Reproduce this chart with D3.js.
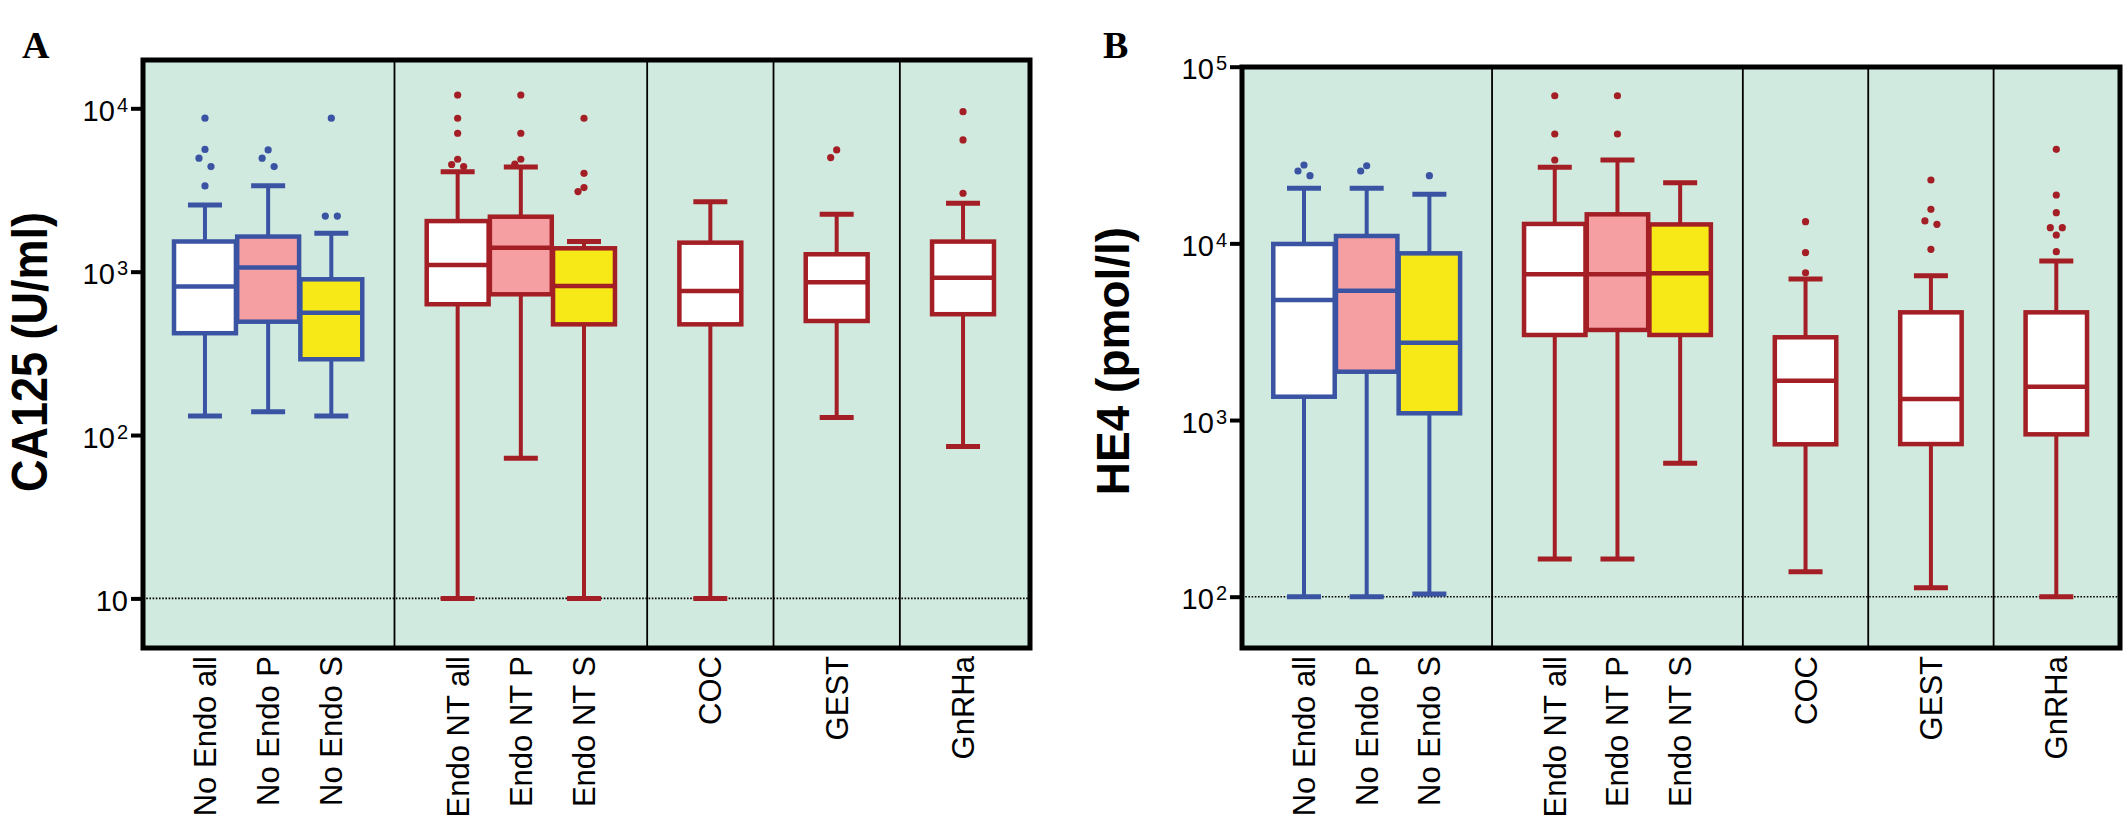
<!DOCTYPE html>
<html>
<head>
<meta charset="utf-8">
<title>CA125 and HE4 box plots</title>
<script src="https://cdnjs.cloudflare.com/ajax/libs/d3/7.8.5/d3.min.js"></script>
<style>
    html, body { margin: 0; padding: 0; background: #fff; }
    svg { display: block; font-family: "Liberation Sans", Arial, sans-serif; }
    .frame--bg { fill: #d1eadf; }
    .frame--border { fill: none; stroke: #000; stroke-width: 5; }
    .frame--sep { stroke: #000; stroke-width: 1.8; }
    .ref--line { stroke: #000; stroke-width: 1.6; stroke-dasharray: 1.6 1.6; }
    .axis--y path.domain { display: none; }
    .axis--y .tick line { stroke: #000; stroke-width: 4; }
    .axis--y .tick text { font-size: 29px; fill: #000; }
    .label--x { font-size: 31px; fill: #000; }
    .title--y { font-weight: bold; fill: #000; }
    .panel--letter { font-family: "Liberation Serif", "Times New Roman", serif; font-weight: bold; font-size: 38px; }
</style>
</head>
<body>
<svg id="chart" width="2126" height="829"></svg>
<script>
// Categories (same for both panels), grouped between the vertical separators
var categories = ["No Endo all", "No Endo P", "No Endo S",
    "Endo NT all", "Endo NT P", "Endo NT S", "COC", "GEST", "GnRHa"];
var groupSizes = [3, 3, 1, 1, 1];

// Panel A - CA125 (U/ml)
var ca125Min = [131, 139, 131, 10, 72, 10, 10, 128, 85];
var ca125Q1 = [420, 494, 291, 632, 727, 476, 476, 499, 549];
var ca125Median = [810, 1060, 561, 1100, 1400, 817, 762, 861, 919];
var ca125Q3 = [1530, 1640, 898, 2040, 2170, 1390, 1505, 1278, 1528];
var ca125Max = [2560, 3360, 1720, 4090, 4370, 1530, 2680, 2245, 2620];
var ca125Outliers = [
    [8700, 5600, 4950, 4400, 3350],
    [5560, 4950, 4400],
    [8700, 2190, 2190],
    [12060, 8690, 7035, 4875, 4530, 4400],
    [12060, 7035, 4875, 4550],
    [8690, 4000, 3270, 3090],
    [],
    [5560, 4990],
    [9530, 6400, 3020]
];
var ca125Ticks = [10, 100, 1000, 10000];
var ca125TickLabels = ["10", "10^2", "10^3", "10^4"];

// Panel B - HE4 (pmol/l)
var he4Min = [100, 100, 103.5, 163.5, 163.5, 569, 138.6, 112.5, 100];
var he4Q1 = [1355, 1877, 1092, 3030, 3235, 3030, 729, 731, 830];
var he4Median = [4780, 5400, 2740, 6680, 6680, 6770, 1670, 1315, 1544];
var he4Q3 = [9920, 11010, 8780, 12880, 14600, 12800, 2940, 4070, 4070];
var he4Max = [20500, 20500, 18950, 26950, 29650, 22050, 6290, 6560, 7945];
var he4Outliers = [
    [27770, 25680, 24150],
    [27500, 25680],
    [24150],
    [68500, 41600, 29650],
    [68500, 41600],
    [],
    [13270, 8860, 6820],
    [22840, 15590, 13390, 12820, 9256],
    [34060, 18780, 14920, 12270, 12270, 11150, 8970]
];
var he4Ticks = [100, 1000, 10000, 100000];
var he4TickLabels = ["10^2", "10^3", "10^4", "10^5"];

// Styles
var BLUE = "#3a54a3", RED = "#a41f25";
var strokeColors = [BLUE, BLUE, BLUE, RED, RED, RED, RED, RED, RED];
var fillColors = ["#ffffff", "#f59fa3", "#f6e917", "#ffffff", "#f59fa3", "#f6e917",
    "#ffffff", "#ffffff", "#ffffff"];

// Slot layout: every group gets n + 1 slots, boxes sit on the inner slot lines
function slotLayout(sizes) {
    var pos = [], seps = [], s = 0;
    sizes.forEach(function (n, gi) {
        for (var i = 1; i <= n; i++) pos.push(s + i);
        s += n + 1;
        if (gi < sizes.length - 1) seps.push(s);
    });
    return { pos: pos, seps: seps, total: s };
}

// Box panel
function BoxPanel(svg, opts) {
    this.svg = svg;
    this.opts = opts;
    this.layout = slotLayout(groupSizes);
    this.x = d3.scaleLinear().domain([0, this.layout.total]).range(opts.xRange);
    this.y = d3.scaleLog().domain(opts.yDomain).range(opts.yRange);
    this.g = svg.append("g").attr("class", "panel");
    this.init();
}
BoxPanel.prototype = {
    init: function () {
        this.drawFrame();
        this.drawBoxes();
        this.drawAxis();
        this.drawLabels();
    },
    drawFrame: function () {
        var o = this.opts, self = this;
        this.g.append("rect")
            .attr("class", "frame--bg")
            .attr("x", o.frame.left).attr("y", o.frame.top)
            .attr("width", o.frame.right - o.frame.left)
            .attr("height", o.frame.bottom - o.frame.top);

        this.g.selectAll(".frame--sep").data(this.layout.seps)
            .enter().append("line")
            .attr("class", "frame--sep")
            .attr("x1", function (d) { return self.x(d); })
            .attr("x2", function (d) { return self.x(d); })
            .attr("y1", o.frame.top).attr("y2", o.frame.bottom);

        // dotted line at the detection limit
        this.g.append("line")
            .attr("class", "ref--line")
            .attr("x1", o.frame.left).attr("x2", o.frame.right)
            .attr("y1", this.y(o.refValue)).attr("y2", this.y(o.refValue));
    },
    drawBoxes: function () {
        var self = this, o = this.opts, d = o.data;
        var slotW = this.x(1) - this.x(0);
        var half = slotW * 0.49, capHalf = 17;

        var rows = categories.map(function (c, i) {
            return {
                name: c, cx: self.x(self.layout.pos[i]),
                min: d.min[i], q1: d.q1[i], median: d.median[i], q3: d.q3[i], max: d.max[i],
                outliers: d.outliers[i], stroke: strokeColors[i], fill: fillColors[i]
            };
        });

        var box = this.g.selectAll(".box").data(rows).enter()
            .append("g").attr("class", "box");

        // whisker
        box.append("line")
            .attr("x1", function (r) { return r.cx; })
            .attr("x2", function (r) { return r.cx; })
            .attr("y1", function (r) { return self.y(r.min); })
            .attr("y2", function (r) { return self.y(r.max); })
            .attr("stroke", function (r) { return r.stroke; })
            .attr("stroke-width", 4);

        // caps
        ["min", "max"].forEach(function (k) {
            box.append("line")
                .attr("x1", function (r) { return r.cx - capHalf; })
                .attr("x2", function (r) { return r.cx + capHalf; })
                .attr("y1", function (r) { return self.y(r[k]); })
                .attr("y2", function (r) { return self.y(r[k]); })
                .attr("stroke", function (r) { return r.stroke; })
                .attr("stroke-width", 5);
        });

        // box
        box.append("rect")
            .attr("x", function (r) { return r.cx - half; })
            .attr("y", function (r) { return self.y(r.q3); })
            .attr("width", half * 2)
            .attr("height", function (r) { return self.y(r.q1) - self.y(r.q3); })
            .attr("fill", function (r) { return r.fill; })
            .attr("stroke", function (r) { return r.stroke; })
            .attr("stroke-width", 4.5);

        // median
        box.append("line")
            .attr("x1", function (r) { return r.cx - half; })
            .attr("x2", function (r) { return r.cx + half; })
            .attr("y1", function (r) { return self.y(r.median); })
            .attr("y2", function (r) { return self.y(r.median); })
            .attr("stroke", function (r) { return r.stroke; })
            .attr("stroke-width", 4.5);

        // outliers, nudged sideways when they crowd each other
        box.each(function (r) {
            var pts = r.outliers.slice().sort(function (a, b) { return b - a; })
                .map(function (v) { return { v: v, py: self.y(v), side: 0 }; });
            pts.forEach(function (p, i) {
                if (i === 0) return;
                var prev = pts[i - 1], gap = p.py - prev.py;
                if (gap >= 12) return;
                if (gap < 2 && prev.side === 0) { prev.side = -1; p.side = 1; }
                else p.side = prev.side === 0 ? -1 : (prev.side === -1 ? 1 : 0);
            });
            d3.select(this).selectAll("circle").data(pts).enter()
                .append("circle")
                .attr("cx", function (p) { return r.cx + p.side * 6; })
                .attr("cy", function (p) { return p.py; })
                .attr("r", 3.6)
                .attr("fill", r.stroke);
        });
    },
    drawAxis: function () {
        var o = this.opts;
        var labels = o.tickLabels;
        this.g.append("rect")
            .attr("class", "frame--border")
            .attr("x", o.frame.left).attr("y", o.frame.top)
            .attr("width", o.frame.right - o.frame.left)
            .attr("height", o.frame.bottom - o.frame.top);

        var axis = this.g.append("g")
            .attr("class", "axis--y")
            .attr("transform", "translate(" + o.frame.left + ",0)")
            .call(d3.axisLeft(this.y)
                .tickValues(o.ticks)
                .tickSize(12)
                .tickPadding(3)
                .tickFormat(function () { return ""; }));

        axis.selectAll(".tick text").each(function (d, i) {
            var parts = labels[i].split("^");
            var t = d3.select(this).attr("dy", "0.42em");
            t.append("tspan").text(parts[0]);
            if (parts[1]) {
                t.append("tspan").attr("dy", -9).attr("dx", 2)
                    .style("font-size", "20px").text(parts[1]);
            }
        });
    },
    drawLabels: function () {
        var self = this, o = this.opts;
        this.g.selectAll(".label--x").data(categories).enter()
            .append("text")
            .attr("class", "label--x")
            .attr("text-anchor", "end")
            .attr("transform", function (c, i) {
                return "translate(" + (self.x(self.layout.pos[i]) + 11) + "," + (o.frame.bottom + 8) +
                    ") rotate(-90)";
            })
            .text(function (c) { return c; });

        this.g.append("text")
            .attr("class", "title--y")
            .attr("text-anchor", "middle")
            .style("font-size", o.title.size + "px")
            .attr("transform", "translate(" + o.title.x + "," + o.title.y + ") rotate(-90) scale(" +
                o.title.squeeze + ",1)")
            .text(o.title.text);

        this.g.append("text")
            .attr("class", "panel--letter")
            .attr("x", o.letter.x).attr("y", o.letter.y)
            .text(o.letter.text);
    }
};
BoxPanel.prototype.constructor = BoxPanel;

var svg = d3.select("#chart");
svg.append("rect").attr("width", 2126).attr("height", 829).attr("fill", "#fff");

new BoxPanel(svg, {
    frame: { left: 143, right: 1030, top: 60, bottom: 648 },
    xRange: [141.8, 1026.2],
    yDomain: [10, 10000],
    yRange: [598.4, 108.3],
    refValue: 10,
    ticks: ca125Ticks,
    tickLabels: ca125TickLabels,
    title: { text: "CA125 (U/ml)", x: 47, y: 352, size: 50, squeeze: 0.9 },
    letter: { text: "A", x: 22, y: 58 },
    data: { min: ca125Min, q1: ca125Q1, median: ca125Median, q3: ca125Q3, max: ca125Max,
        outliers: ca125Outliers }
});

new BoxPanel(svg, {
    frame: { left: 1242, right: 2120, top: 67, bottom: 648 },
    xRange: [1241.3, 2119],
    yDomain: [100, 100000],
    yRange: [596.7, 66.7],
    refValue: 100,
    ticks: he4Ticks,
    tickLabels: he4TickLabels,
    title: { text: "HE4 (pmol/l)", x: 1129, y: 361, size: 46, squeeze: 1 },
    letter: { text: "B", x: 1103, y: 58 },
    data: { min: he4Min, q1: he4Q1, median: he4Median, q3: he4Q3, max: he4Max,
        outliers: he4Outliers }
});
</script>
</body>
</html>
